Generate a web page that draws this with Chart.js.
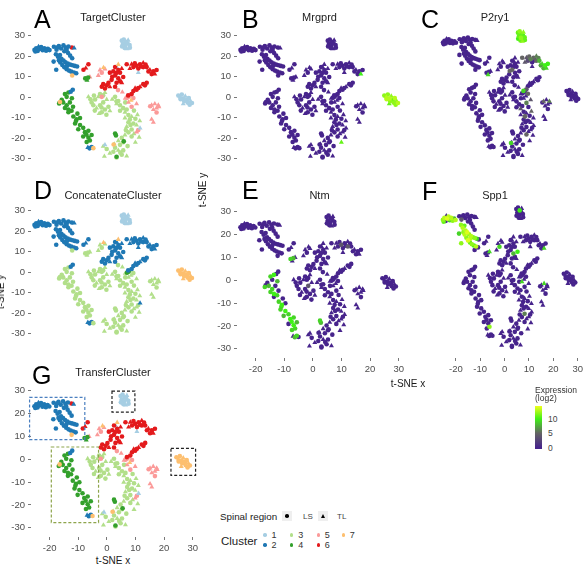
<!DOCTYPE html>
<html>
<head>
<meta charset="utf-8">
<script src="https://cdn.jsdelivr.net/npm/chart.js@4/dist/chart.umd.min.js"></script>
<style>
  body { margin: 0; width: 585px; height: 571px; position: relative; overflow: hidden; background: #fff;
         font-family: "Liberation Sans", Arial, sans-serif; }
  canvas { position: absolute; }
  .t { position: absolute; white-space: nowrap; line-height: 1; }
</style>
</head>
<body>
<script>
// t-SNE cells, grouped by blob. row: x, y, TL (0 = LS circle, 1 = TL triangle),
// then log2 expression of Mrgprd, P2ry1, Ntm, Spp1 (missing = 0)
const clump = [[-25.3,23.1,0,0,0,0,12],[-24.7,23.9,0,0,0,0,13],[-24.2,22.6,0],[-23.6,23.6,0,0,0,0,14],
  [-23.0,24.5,0,0,0,0,13],[-22.5,22.9,0,0,0,0,9],[-21.9,23.9,0,0,0,0,13],[-21.3,22.7,0,0,0,0,12],
  [-20.7,23.6,0,0,0,0,8],[-23.9,24.7,1],[-20.1,23.0,0,0,0,0,13],[-22.7,23.6,0,0,0,0,12],[-25.0,22.3,0,0,0,0,11]];
const armUpper = [[-18.6,24.6,0],[-17.7,23.2,0,0,0,0,4],[-16.9,25.0,0],[-16.1,23.8,0],[-15.3,25.3,0],
  [-14.5,24.2,0],[-13.6,24.7,0],[-15.0,22.4,0],[-13.7,21.6,0],[-13.0,20.3,0],[-12.3,19.0,0],[-11.6,24.0,1],
  [-17.3,24.4,0],[-14.2,23.0,0]];
const armLower = [[-17.9,21.0,0,0,0,0,12],[-17.2,19.8,0,0,0,0,13],[-16.5,20.6,0,0,0,0,11],[-16.0,18.7,0,0,0,0,13],
  [-15.3,17.9,0,0,0,0,14],[-14.6,17.1,0,0,0,0,12],[-13.8,16.4,0,0,0,0,13],[-13.0,15.9,0,0,0,0,11],
  [-12.2,15.6,0,0,0,0,12],[-11.4,15.3,0,0,0,0,9],[-10.6,15.0,0],[-16.4,17.0,0,0,0,0,13],
  [-15.7,15.7,0,0,0,0,12],[-15.0,14.6,0,0,0,0,14],[-14.2,13.7,0,0,0,0,11],[-13.4,13.0,0,0,0,0,12],
  [-12.6,12.5,0,0,0,0,10],[-11.7,12.1,0,0,0,0,13],[-10.9,11.7,0],[-17.8,13.4,0,0,0,0,12],[-18.7,17.4,0,0,0,0,9],
  [-16.9,18.0,0,0,0,0,12],[-14.1,15.3,0,0,0,0,13]];
const blueLow = [[-12.1,3.7,0],[-12.8,2.7,0],[-5.6,-24.3,0,0,0,9],[-6.3,-24.9,0,0,0,8],[-6.9,-24.5,1]];
const redLeft = [[-12.4,24.3,0],[-6.7,16.1,0],[-8.4,13.4,0],[-7.6,14.2,1]];
const redMain = [[2.5,14.7,0],[3.6,13.3,0],[0.7,12.0,0],[2.5,10.6,0,0,5],[3.6,9.2,0,0,0,0,8],[1.3,8.5,0],
  [3.0,7.1,0],[4.8,7.1,1],[-0.4,5.8,0],[-2.1,5.1,0],[-1.6,6.4,0],[0.7,5.1,1],[2.5,5.1,0],[4.2,7.8,0],
  [5.3,9.9,0,0,0,0,10],[1.9,12.6,0],[4.2,12.0,0],[4.8,14.0,1],[1.5,10.0,0,0,5],[0.2,7.0,0],
  [2.9,11.8,0],[-1.0,4.3,0]];
const redUpperRight = [[6.5,16.1,0,0,5],[8.2,16.1,1,0,4],[9.9,15.4,0,0,6,4],[11.1,16.1,0,0,5],[12.2,16.8,1,0,6],
  [13.4,14.7,0,0,8],[14.5,13.3,1,0,9],[15.7,12.6,0,0,10],[16.2,11.3,1,10,9,0,9],[15.1,11.3,0,0,8],
  [14.0,12.6,0,0,7],[8.8,14.7,0,0,3],[7.6,14.0,1,0,4],[10.5,14.0,0],[12.2,14.7,0,0,5,4],
  [16.8,13.3,0,0,10],[11.5,15.0,0],[13.0,16.0,0,0,6],[9.3,16.6,0,0,5]];
const redDiag = [[13.4,7.1,0],[12.2,6.4,0],[11.1,5.1,1],[9.9,3.7,0],[8.8,3.0,0],[8.2,1.6,0,0,4],
  [7.0,0.9,0,0,9],[12.8,5.8,0],[9.4,4.4,1],[10.5,4.5,0]];
const lbTop = [[4.8,27.6,0,0,11],[5.5,28.2,0,0,12],[6.2,27.0,0,0,11,0,10],[7.0,27.8,1,0,12],[5.2,26.0,0,0,11],
  [6.0,25.2,0,0,12],[6.8,26.3,0,0,10],[7.5,25.5,0,0,11],[5.8,24.0,0,0,11],[6.6,23.6,1,0,12],
  [4.9,24.8,0,0,10],[7.6,24.2,0,0,11]];
const lbRight = [[24.3,0.8,0,12],[25.0,0.0,1,13],[25.5,1.3,0,12],[26.1,-0.6,0,13],[26.7,0.5,1,12],
  [27.3,-1.2,0,11],[27.9,-0.4,0,13],[28.5,-1.8,1,12],[27.5,-2.6,0,12],[29.0,-2.8,0,13],
  [26.3,-1.8,0,12],[25.1,-1.0,0,13],[26.0,-3.2,1,11],[28.2,-3.6,0,12]];
const lbStray = [[3.0,14.7,1],[10.5,12.0,1],[11.1,-15.0,1]];
const lbStrayLow = [[-1.0,-23.2,1]];
const pinkUp = [[-2.7,13.3,1],[-2.1,12.0,0,0,0,0,9],[-3.3,10.6,1],[-6.2,9.9,1,0,0,0,9],[-1.0,13.8,1]];
const pinkMid = [[7.6,0.9,1],[8.8,-0.4,0,0,5],[7.1,-2.5,1,0,0,0,9],[9.9,-3.2,1,0,4],[8.2,-4.6,0,0,6],
  [-2.1,0.2,0],[5.0,2.5,1],[3.5,3.5,0],[6.0,-0.5,1]];
const pinkMidDark = [[7.2,0.3,0],[6.6,-0.2,0]];
const pinkRight = [[15.1,-3.9,1,0,5],[16.2,-3.2,1,0,0,0,9],[17.4,-3.9,1,0,6],[15.7,-6.0,1],[16.8,-5.3,1],
  [15.1,-10.8,1],[15.7,-12.2,1],[16.8,-7.4,0],[17.6,-4.6,1],[14.6,-4.4,0]];
const pinkLow = [[9.9,-17.0,1],[10.5,-16.0,0]];
const lgLeft = [[-5.6,-2.5,0],[-4.4,-1.1,0],[-3.3,0.2,1],[-2.7,1.6,0],[-1.6,0.9,0],[-5.0,-3.9,0],
  [-3.9,-5.3,1],[-2.7,-3.9,0],[-1.6,-2.5,0,0,0,4],[-0.4,-1.1,1],[-1.0,-6.0,0],[0.2,-4.6,0],[0.7,-6.6,1],
  [-2.1,-7.3,0],[-6.7,0.2,1],[-4.5,-6.5,0],[-0.5,-8.5,0],[-3.0,-8.0,1],[-6.0,-1.0,0],[-2.2,-5.0,0],
  [-4.8,0.8,0],[-1.0,2.3,1]];
const lgRight = [[2.5,0.2,0],[3.6,-1.8,0],[3.0,-3.2,1],[4.2,-3.9,0],[5.3,-5.3,0],[4.2,-6.6,0],
  [5.9,-7.3,1,0,4],[6.5,-6.0,0],[7.1,-8.7,0],[5.9,-10.1,1],[7.6,-10.8,0,0,5],[8.2,-9.4,1],[7.1,-12.2,0],
  [8.8,-12.8,0],[6.5,-14.3,1],[8.2,-15.7,0,0,0,0,6],[7.1,-17.1,0],[5.9,-18.4,1],[8.2,-19.1,0,0,5],
  [4.8,-19.8,0],[3.6,-21.2,1],[5.3,-21.9,0],[4.2,-23.2,0],[2.5,-24.6,0],[3.6,-25.9,1],[1.9,-26.6,0],
  [5.3,-25.9,0],[4.8,-28.0,0],[6.5,-28.7,1],[3.0,-29.4,0],[0.7,-27.3,1],[-0.4,-25.2,0],[-1.6,-23.9,1],
  [9.9,-13.6,1],[9.5,-10.5,0],[10.2,-8.5,1,0,5],[3.0,-2.0,0],[1.5,-1.0,1],[10.8,-19.5,1],[6.8,-23.8,0],
  [-1.2,-28.8,1],[9.5,-22.0,1,11],[6.0,-2.5,0],[9.0,-6.5,0],[11.0,-11.5,1],
  [7.8,-13.5,0],[6.2,-16.0,0],[9.0,-17.8,1],[4.3,-27.0,0],[2.2,-22.8,1]];
const dgStrip = [[-14.8,1.6,0,0,0,9],[-13.6,2.3,0,0,0,10],[-14.2,0.2,0],[-15.4,-2.5,0,0,0,8],[-14.2,-3.9,0,0,0,9],
  [-13.1,-2.5,0],[-13.6,-6.0,0,0,0,10],[-12.5,-6.6,0,0,0,9],[-13.6,-7.3,0],[-11.9,-9.4,0,0,0,9],
  [-10.8,-10.8,0,0,0,10],[-9.6,-10.1,0],[-11.3,-12.8,0,0,0,9],[-9.6,-13.5,0,0,0,10],[-8.5,-14.9,0,0,0,9],
  [-10.2,-15.6,0,0,0,8],[-7.9,-17.0,0,0,0,10],[-6.7,-16.3,0,0,0,9],[-8.5,-19.1,0],[-6.7,-19.7,0,0,0,10],
  [-6.2,-21.1,0,0,0,9,12],[-5.6,-18.4,0,0,0,8],[-7.3,-21.8,0,0,0,9],[-15.9,-1.2,0],[-16.8,-3.0,0,0,0,9],
  [-12.4,-0.5,0,0,0,8],[-12.0,-4.6,0],[-14.8,-5.2,0,0,0,9],[-10.5,-8.0,0],
  [-11.0,-11.6,0,0,0,9],[-7.4,-18.2,0,0,0,10]];
const dgUp = [[-7.8,9.2,0,0,0,9],[-6.8,9.6,0,0,0,8],[-7.2,8.3,1,0,9]];
const dgStray = [[2.5,-17.7,0,0,0,9],[2.8,-18.6,0,0,0,8],[5.5,-21.5,0],[3.0,-29.0,0]];
const orangeStray = [[-12.3,10.6,0],[-16.5,-2.3,0],[2.0,-23.0,0,0,9],[-5.0,-24.8,0],[8.0,-1.5,1]];
const orangeUp = [[-1.5,14.5,1],[3.6,16.0,1]];

// blob -> cluster id in TargetCluster, ConcatenateCluster, TransferCluster
const blobs = [
  [lgLeft, 3, 3, 3], [lgRight, 3, 3, 3], [pinkUp, 5, 3, 5], [pinkMid, 5, 3, 5], [pinkMidDark, 5, 4, 5],
  [pinkRight, 5, 3, 5], [pinkLow, 5, 3, 5], [dgStrip, 4, 3, 4], [dgUp, 4, 3, 4], [dgStray, 4, 3, 4],
  [lbTop, 1, 1, 1], [lbRight, 1, 7, 7], [lbStray, 1, 2, 1], [lbStrayLow, 1, 3, 1],
  [redLeft, 6, 2, 6], [redMain, 6, 2, 6], [redUpperRight, 6, 2, 6], [redDiag, 6, 2, 6],
  [clump, 2, 2, 2], [armUpper, 2, 2, 2], [armLower, 2, 2, 2], [blueLow, 2, 2, 2],
  [orangeStray, 7, 3, 7], [orangeUp, 7, 7, 7]
];
const clusterIds = [1, 2, 3, 4, 5, 6, 7];
const clusterColors = ['#a6cee3', '#1f78b4', '#b2df8a', '#33a02c', '#fb9a99', '#e31a1c', '#fdbf6f'];
const exprStops = [0, 5, 10, 14.5];
const exprColors = ['#47248c', '#646464', '#3ff016', '#f0ff1e'];
// dashed highlight boxes in TransferCluster: xmin, xmax, ymin, ymax (t-SNE units)
const highlightBoxes = [[-27, -7.7, 8.5, 27], [1.8, 9.8, 20.5, 29.7], [-19.4, -2.9, -27.7, 5.3], [22.4, 31, -7.1, 4.7]];
const highlightColors = ['#4a7fc0', '#222222', '#8ea54c', '#222222'];

const cells = [];
blobs.forEach(([rows, target, concat, transfer]) => {
  rows.forEach(r => cells.push({
    x: r[0], y: r[1], tl: r[2], target, concat, transfer,
    expr: { Mrgprd: r[3] || 0, P2ry1: r[4] || 0, Ntm: r[5] || 0, Spp1: r[6] || 0 }
  }));
});

function hex(c) { return [1, 3, 5].map(i => parseInt(c.substr(i, 2), 16)); }
function exprColor(v) {
  v = Math.max(exprStops[0], Math.min(exprStops[exprStops.length - 1], v));
  let i = 0;
  while (i < exprStops.length - 2 && v > exprStops[i + 1]) i++;
  const f = (v - exprStops[i]) / (exprStops[i + 1] - exprStops[i]);
  const a = hex(exprColors[i]), b = hex(exprColors[i + 1]);
  return 'rgb(' + a.map((c, k) => Math.round(c + (b[k] - c) * f)).join(',') + ')';
}

const font = 'Liberation Sans, Arial, sans-serif';
const colLeft = [31, 237, 416];
const rowTop = [21, 196, 375];
const panelW = 170, panelH = 162;
const pxX = 2.9, pxY = 2.42;
const xMin = -26.5, yMin = -34;

const panels = [
  { letter: 'A', title: 'TargetCluster', by: 'target', col: 0, row: 0 },
  { letter: 'B', title: 'Mrgprd', gene: 'Mrgprd', col: 1, row: 0 },
  { letter: 'C', title: 'P2ry1', gene: 'P2ry1', col: 2, row: 0 },
  { letter: 'D', title: 'ConcatenateCluster', by: 'concat', col: 0, row: 1 },
  { letter: 'E', title: 'Ntm', gene: 'Ntm', col: 1, row: 1, xAxis: true },
  { letter: 'F', title: 'Spp1', gene: 'Spp1', col: 2, row: 1, xAxis: true },
  { letter: 'G', title: 'TransferCluster', by: 'transfer', col: 0, row: 2, xAxis: true, boxes: true }
];

const boxPlugin = {
  id: 'boxes',
  afterDatasetsDraw(chart) {
    const { ctx, scales: { x, y } } = chart;
    ctx.save();
    ctx.lineWidth = 1.2;
    ctx.setLineDash([3, 2]);
    highlightBoxes.forEach((b, i) => {
      ctx.strokeStyle = highlightColors[i];
      const x1 = x.getPixelForValue(b[0]), x2 = x.getPixelForValue(b[1]);
      const y1 = y.getPixelForValue(b[3]), y2 = y.getPixelForValue(b[2]);
      ctx.strokeRect(x1, y1, x2 - x1, y2 - y1);
    });
    ctx.restore();
  }
};

function axisStyle() {
  return {
    grid: { display: true, drawOnChartArea: false, drawTicks: true, tickLength: 3, color: '#555', lineWidth: 0.8 },
    border: { display: false },
    ticks: { stepSize: 10, includeBounds: false, color: '#4d4d4d', padding: 3, font: { family: font, size: 9.5 } }
  };
}

panels.forEach(p => {
  const yAxis = p.col < 2;
  const yw = p.col === 0 ? 31 : 24;
  const left = colLeft[p.col] - (yAxis ? yw : 0);
  const w = panelW + (yAxis ? yw : 0);
  const h = panelH + (p.xAxis ? 16 : 0);
  const cv = document.createElement('canvas');
  cv.width = w; cv.height = h;
  cv.style.left = left + 'px';
  cv.style.top = rowTop[p.row] + 'px';
  document.body.appendChild(cv);

  let list = cells.slice();
  if (p.gene) list.sort((a, b) => a.expr[p.gene] - b.expr[p.gene]);
  const colors = list.map(c => p.gene ? exprColor(c.expr[p.gene]) : clusterColors[c[p.by] - 1]);
  const radii = list.map(c => c.tl ? 2.9 : 2.3);

  const xs = axisStyle(), ys = axisStyle();
  new Chart(cv, {
    type: 'scatter',
    data: {
      datasets: [{
        data: list.map(c => ({ x: c.x, y: c.y })),
        pointBackgroundColor: colors,
        pointBorderWidth: 0,
        pointStyle: list.map(c => c.tl ? 'triangle' : 'circle'),
        pointRadius: radii,
        pointHoverRadius: radii
      }]
    },
    options: {
      responsive: false,
      animation: false,
      events: [],
      layout: { padding: 0, autoPadding: false },
      plugins: { legend: { display: false }, tooltip: { enabled: false } },
      scales: {
        x: Object.assign(xs, {
          type: 'linear', min: xMin, max: xMin + panelW / pxX, display: !!p.xAxis,
          afterFit: s => { s.height = 16; }
        }),
        y: Object.assign(ys, {
          type: 'linear', min: yMin, max: yMin + panelH / pxY, display: yAxis,
          afterFit: s => { s.width = yw; }
        })
      }
    },
    plugins: p.boxes ? [boxPlugin] : []
  });
});

// text: panel letters, titles, axis titles, legends
function txt(s, x, y, size, opts) {
  opts = opts || {};
  const d = document.createElement('div');
  d.className = 't';
  d.textContent = s;
  d.style.left = x + 'px';
  d.style.top = y + 'px';
  d.style.fontSize = size + 'px';
  d.style.color = opts.color || '#1a1a1a';
  let tr = opts.center ? 'translate(-50%,-50%)' : 'translate(0,-50%)';
  if (opts.rotate) tr += ' rotate(-90deg)';
  d.style.transform = tr;
  document.body.appendChild(d);
  return d;
}

const letterPos = [[34, 19.3], [242, 19.3], [421, 19.3], [34, 190.3], [242, 190.3], [422, 191], [32, 375]];
const titleX = [113, 319.5, 495];
const titleY = [17.3, 194.5, 372];
panels.forEach((p, i) => {
  txt(p.letter, letterPos[i][0], letterPos[i][1], 25, { color: '#000' });
  txt(p.title, titleX[p.col], titleY[p.row], 11, { center: true, color: '#222' });
});
txt('t-SNE x', 408, 383.5, 10, { center: true });
txt('t-SNE x', 113, 560.5, 10, { center: true });
txt('t-SNE y', 203, 190, 10, { center: true, rotate: true });
txt('t-SNE y', 1, 292, 10, { center: true, rotate: true });

// expression colour bar
txt('Expression', 535, 389.5, 8.5, { color: '#333' });
txt('(log2)', 535, 397.5, 8.5, { color: '#333' });
const bar = document.createElement('div');
const barTop = 406, barH = 43.3, barMin = -0.5, barMax = 14.5;
const grad = exprStops.map((v, i) => exprColors[i] + ' ' + ((v - barMin) / (barMax - barMin) * 100).toFixed(1) + '%');
bar.style.cssText = 'position:absolute;left:535px;top:' + barTop + 'px;width:7px;height:' + barH +
  'px;background:linear-gradient(to top,' + exprColors[0] + ' 0%,' + grad.join(',') + ')';
document.body.appendChild(bar);
[0, 5, 10].forEach(v => {
  const y = barTop + barH * (barMax - v) / (barMax - barMin);
  txt(String(v), 548, y, 8.5, { color: '#444' });
});

// spinal region legend
txt('Spinal region', 220, 516.7, 9.8, { color: '#222' });
[['LS', 282, 303, false], ['TL', 318, 337, true]].forEach(([lab, bx, lx, tri]) => {
  const box = document.createElement('div');
  box.style.cssText = 'position:absolute;left:' + bx + 'px;top:511px;width:10px;height:10px;background:#efefef';
  const m = document.createElement('div');
  m.style.cssText = tri
    ? 'position:absolute;left:2.5px;top:3px;width:0;height:0;border-left:2.5px solid transparent;border-right:2.5px solid transparent;border-bottom:4px solid #000'
    : 'position:absolute;left:3.2px;top:3.2px;width:3.6px;height:3.6px;border-radius:50%;background:#000';
  box.appendChild(m);
  document.body.appendChild(box);
  txt(lab, lx, 516.5, 8, { color: '#444' });
});

// cluster legend
txt('Cluster', 221, 541.7, 11.5, { color: '#222' });
const keyX = [265, 265, 291.7, 291.7, 318.3, 318.3, 343.3];
const keyY = [535, 545, 535, 545, 535, 545, 535];
clusterIds.forEach((id, i) => {
  const k = document.createElement('div');
  k.style.cssText = 'position:absolute;width:3.4px;height:3.4px;border-radius:50%;background:' + clusterColors[i] +
    ';left:' + (keyX[i] - 1.7) + 'px;top:' + (keyY[i] - 1.7) + 'px';
  document.body.appendChild(k);
  txt(String(id), keyX[i] + 6.5, keyY[i], 9, { color: '#333' });
});
</script>
</body>
</html>
